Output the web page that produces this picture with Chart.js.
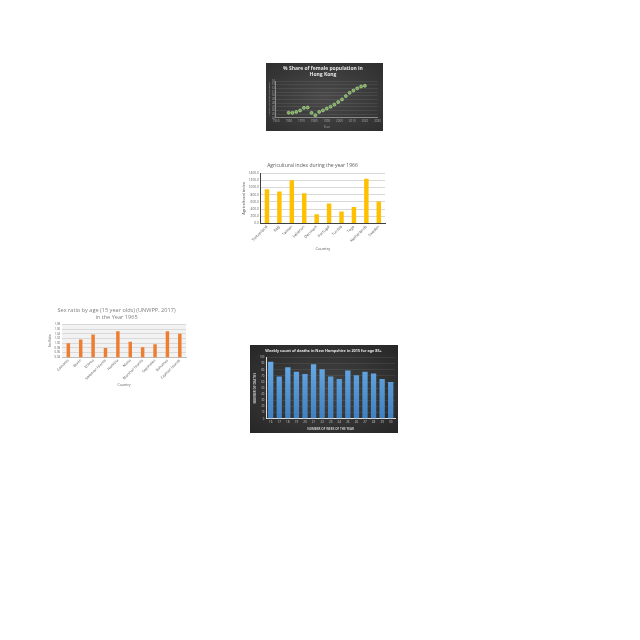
<!DOCTYPE html>
<html><head><meta charset="utf-8">
<script src="https://cdn.jsdelivr.net/npm/chart.js@4"></script>
<style>
html,body{margin:0;padding:0;background:#fff;width:640px;height:640px;overflow:hidden;font-family:"Open Sans",sans-serif}
.box{position:absolute}
#b1{left:266px;top:63px;width:117px;height:68px;background:radial-gradient(ellipse at center,#4a4a4a 0%,#2e2e2e 100%)}
#b2{left:238px;top:158px;width:152px;height:96px;background:#fff}
#b3{left:39px;top:304px;width:152px;height:84px;background:#fff}
#b4{left:250px;top:345px;width:148px;height:88px;background:radial-gradient(ellipse at center,#454545 0%,#262626 100%)}
</style></head><body>
<div class="box" id="b1"><canvas id="c1"></canvas></div>
<div class="box" id="b2"><canvas id="c2"></canvas></div>
<div class="box" id="b3"><canvas id="c3"></canvas></div>
<div class="box" id="b4"><canvas id="c4"></canvas></div>
<script>
// Chart 1: % share of female population in Hong Kong
const hkYears = [1960,1963,1966,1969,1972,1975,1978,1981,1984,1987,1990,1993,1996,1999,2002,2005,2008,2011,2014,2017,2020];
const hkShare = [45.4,45.35,45.6,46.0,46.7,46.8,45.35,44.7,45.6,46.0,46.5,47.0,47.6,48.3,49.0,49.9,50.8,51.4,52.0,52.5,52.7];
const hkTickLabels = ["1950","1960","1970","1980","1990","2000","2010","2020","2030"];

// Chart 2: Agricultural index 1966
const agCountries = ["Switzerland","Italy","Taiwan","Lebanon","Denmark","Portugal","Tunisia","Togo","Netherlands","Sweden"];
const agIndex = [949,884,1197,838,258,553,332,460,1243,608];

// Chart 3: Sex ratio 15 year olds 1965
const srCountries = ["Comoros","Benin","Eritrea","Solomon Islands","Namibia","Malta","Marshall Islands","Seychelles","Bahamas","Cayman Islands"];
const srRatio = [1.000,1.016,1.037,0.979,1.051,1.006,0.983,0.996,1.051,1.040];

// Chart 4: Weekly deaths New Hampshire 2015 age 85+
const nhWeeks = ["16","17","18","19","20","21","22","23","24","25","26","27","28","29","30"];
const nhDeaths = [93,69,84,77,73,89,81,69,65,79,71,77,74,65,60];

Chart.defaults.animation = false;
Chart.defaults.responsive = true;
Chart.defaults.maintainAspectRatio = false;
Chart.defaults.font.family = "'Open Sans', sans-serif";
Chart.defaults.plugins.legend.display = false;
Chart.defaults.plugins.tooltip.enabled = false;

const plotBg = {
  id:'plotBg',
  beforeDraw(chart, args, opts){
    if(!opts.color) return;
    const {ctx, chartArea:a} = chart;
    ctx.save(); ctx.fillStyle = opts.color;
    ctx.fillRect(a.left, a.top, a.right-a.left, a.bottom-a.top);
    ctx.restore();
  }
};
Chart.register(plotBg);

const noGrid = {display:false, drawTicks:false, tickLength:0};

// ---- Chart 1
new Chart(document.getElementById('c1'), {
  type:'scatter',
  data:{datasets:[{data:hkYears.map((y,i)=>({x:y,y:hkShare[i]})),
    backgroundColor:'#70ad47', borderColor:'#c5e0b4', borderWidth:0.6, pointRadius:1.5}]},
  options:{
    layout:{padding:{left:2,right:5,top:2,bottom:2}},
    plugins:{title:{display:true,text:['% Share of female population in','Hong Kong'],color:'#e6e6e6',
      font:{size:5,weight:'bold'},padding:{top:1,bottom:3}, lineHeight:1.2}},
    scales:{
      x:{type:'linear',min:1950,max:2030,
        ticks:{stepSize:10,color:'#aaa',font:{size:3},padding:2,maxRotation:0,autoSkip:false,
          callback:(v)=>hkTickLabels[Math.round((v-1950)/10)]},
        grid:noGrid, border:{color:'#8a8a8a'},
        title:{display:true,text:'Year',color:'#aaa',font:{size:3},padding:0}},
      y:{min:44,max:54,
        ticks:{stepSize:1,color:'#aaa',font:{size:2.6},padding:1,autoSkip:false},
        grid:{color:'rgba(255,255,255,0.08)',drawTicks:false,tickLength:0}, border:{color:'#8a8a8a'},
        title:{display:true,text:'% share of female population',color:'#aaa',font:{size:2.5},padding:0}}
    }
  }
});

// ---- Chart 2
new Chart(document.getElementById('c2'), {
  type:'bar',
  data:{labels:agCountries,datasets:[{data:agIndex,backgroundColor:'#ffc000',barPercentage:0.36,categoryPercentage:1}]},
  options:{
    layout:{padding:{left:2,right:5,top:3,bottom:3}},
    plugins:{title:{display:true,text:'Agricultural index during the year 1966',color:'#595959',
      font:{size:5,weight:'normal'},padding:{top:2,bottom:4}}},
    scales:{
      x:{ticks:{color:'#595959',font:{size:3.8},maxRotation:45,minRotation:45,padding:1,autoSkip:false},
        grid:noGrid, border:{color:'#404040'},
        title:{display:true,text:'Country',color:'#595959',font:{size:4},padding:{top:2,bottom:0}}},
      y:{min:0,max:1400,
        ticks:{stepSize:200,color:'#595959',font:{size:3.2},padding:2,autoSkip:false,callback:v=>v.toFixed(1)},
        grid:{color:'#d9d9d9',drawTicks:false,tickLength:0}, border:{color:'#404040'},
        title:{display:true,text:'Agricultural index',color:'#595959',font:{size:4},padding:1}}
    }
  }
});

// ---- Chart 3
new Chart(document.getElementById('c3'), {
  type:'bar',
  data:{labels:srCountries,datasets:[{data:srRatio,backgroundColor:'#ed7d31',barPercentage:0.28,categoryPercentage:1}]},
  options:{
    layout:{padding:{left:8,right:5,top:1,bottom:1}},
    plugins:{
      plotBg:{color:'#f2f2f2'},
      title:{display:true,text:['Sex ratio by age (15 year olds) (UNWPP, 2017)','in the Year 1965'],color:'#7f7f7f',
      font:{size:5.6,weight:'normal'},padding:{top:2,bottom:4},lineHeight:1.25}},
    scales:{
      x:{ticks:{color:'#595959',font:{size:3.6},maxRotation:45,minRotation:45,padding:1,autoSkip:false},
        grid:noGrid, border:{color:'#bfbfbf'},
        title:{display:true,text:'Country',color:'#595959',font:{size:3.5},padding:{top:1,bottom:0}}},
      y:{min:0.94,max:1.08,
        ticks:{stepSize:0.02,color:'#595959',font:{size:2.8},padding:2,autoSkip:false,callback:v=>v.toFixed(2)},
        grid:{color:'#d9d9d9',drawTicks:false,tickLength:0}, border:{display:false},
        title:{display:true,text:'Sex Ratio',color:'#595959',font:{size:3},padding:1}}
    }
  }
});

// ---- Chart 4
new Chart(document.getElementById('c4'), {
  type:'bar',
  data:{labels:nhWeeks,datasets:[{data:nhDeaths,
    backgroundColor:(ctx)=>{
      const c=ctx.chart, a=c.chartArea; if(!a) return '#5b9bd5';
      const g=c.ctx.createLinearGradient(0,a.bottom,0,a.top);
      g.addColorStop(0,'#3f7fc0'); g.addColorStop(1,'#6aaee8'); return g;
    },
    barPercentage:0.62,categoryPercentage:1}]},
  options:{
    layout:{padding:{left:2,right:3,top:2,bottom:2}},
    plugins:{title:{display:true,text:'Weekly count of deaths in New Hampshire in 2015 for age 85+',color:'#e6e6e6',
      font:{size:3.8,weight:'bold'},padding:{top:2,bottom:4}}},
    scales:{
      x:{ticks:{color:'#c8c8c8',font:{size:3},padding:2,maxRotation:0,autoSkip:false},
        grid:noGrid, border:{color:'#e0e0e0',width:1},
        title:{display:true,text:'NUMBER OF WEEK OF THE YEAR',color:'#c8c8c8',font:{size:3,weight:'bold'},padding:{top:1,bottom:0}}},
      y:{min:0,max:100,
        ticks:{stepSize:10,color:'#c8c8c8',font:{size:2.8},padding:2,autoSkip:false},
        grid:{color:'rgba(255,255,255,0.07)',drawTicks:false,tickLength:0}, border:{color:'#e0e0e0',width:1},
        title:{display:true,text:'NUMBER OF DEATHS',color:'#c8c8c8',font:{size:3,weight:'bold'},padding:1}}
    }
  }
});
</script>
</body></html>
